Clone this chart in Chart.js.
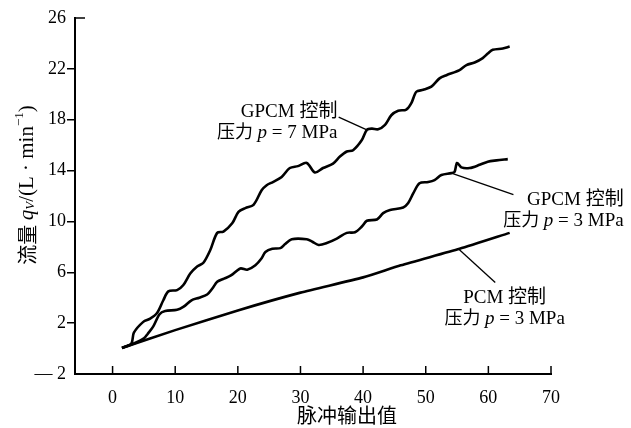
<!DOCTYPE html>
<html>
<head>
<meta charset="utf-8">
<script src="https://cdn.jsdelivr.net/npm/chart.js@4.4.1/dist/chart.umd.min.js"></script>
<style>
  html, body { margin: 0; padding: 0; background: #fff; }
</style>
</head>
<body>
<canvas id="chart" width="631" height="428"></canvas>
<script>
// axis ticks
const xTicks = [0, 10, 20, 30, 40, 50, 60, 70];
const yTicks = [-2, 2, 6, 10, 14, 18, 22, 26];

// GPCM control, p = 7 MPa
const gpcm7X = [1.5, 3.0, 3.4, 4.9, 6.0, 7.1, 8.1, 8.9, 10.3, 11.3, 12.4, 13.5, 14.5, 15.6, 16.7, 17.7,
  19.1, 20.1, 21.2, 22.5, 23.8, 24.6, 25.6, 27.0, 28.3, 29.6, 31.0, 32.3, 33.6, 35.2, 36.3, 37.4,
  38.4, 39.8, 40.6, 41.4, 42.4, 43.5, 44.5, 45.6, 46.9, 47.7, 48.5, 49.6, 50.9, 52.2, 53.3, 55.4,
  56.5, 57.8, 59.1, 59.9, 60.7, 62.3, 63.4];
const gpcm7Y = [0.05, 0.4, 1.25, 2.1, 2.35, 2.8, 3.8, 4.5, 4.6, 5.0, 5.9, 6.45, 6.75, 7.75, 9.1, 9.2,
  9.85, 10.75, 11.05, 11.3, 12.45, 12.85, 13.1, 13.5, 14.2, 14.35, 14.6, 13.85, 14.2, 14.55, 15.1, 15.5,
  15.6, 16.4, 17.2, 17.3, 17.25, 17.6, 18.35, 18.7, 18.8, 19.3, 20.2, 20.35, 20.6, 21.25, 21.5, 21.9,
  22.3, 22.5, 22.85, 23.2, 23.5, 23.6, 23.75];

// GPCM control, p = 3 MPa
const gpcm3X = [1.5, 3.4, 5.0, 5.6, 6.5, 7.5, 8.4, 10.3, 11.35, 12.6, 13.85, 15.1, 15.9, 16.7, 17.8,
  18.9, 20.4, 21.5, 22.8, 23.8, 24.4, 25.5, 26.8, 27.5, 28.6, 31.0, 31.9, 32.9, 34.2, 35.8, 37.4,
  38.7, 39.8, 40.6, 42.2, 43.2, 44.3, 46.4, 47.2, 48.0, 49.0, 50.4, 51.4, 52.5, 54.1, 54.6, 55.0,
  55.7, 57.0, 58.6, 59.9, 61.3, 63.1];
const gpcm3Y = [0.05, 0.4, 0.8, 1.15, 1.75, 2.7, 2.95, 3.05, 3.3, 3.8, 4.0, 4.25, 4.7, 5.25, 5.5,
  5.75, 6.3, 6.2, 6.55, 7.1, 7.6, 7.85, 7.9, 8.2, 8.6, 8.6, 8.4, 8.15, 8.3, 8.65, 9.1,
  9.15, 9.6, 10.05, 10.15, 10.65, 10.9, 11.1, 11.45, 12.2, 13.0, 13.1, 13.25, 13.65, 13.8, 13.9, 14.6,
  14.25, 14.2, 14.45, 14.7, 14.8, 14.9];

// PCM control, p = 3 MPa
const pcmX = [1.5, 10, 20, 30, 40, 46, 55.4, 63.4];
const pcmY = [0.05, 1.45, 3.0, 4.4, 5.6, 6.55, 7.85, 9.1];

const SERIF = '"Liberation Serif", "Noto Sans CJK SC", serif';
const CJK = '"Noto Sans CJK SC", sans-serif';

function toPoints(xs, ys) {
  return xs.map((x, i) => ({ x: x, y: ys[i] }));
}

// draw a line of text made of several runs (font changes, sub/superscripts)
function drawRuns(ctx, runs, x, y, align) {
  let w = 0;
  runs.forEach(r => { ctx.font = r.font; w += ctx.measureText(r.t).width; });
  let cx = x;
  if (align === 'right') cx = x - w;
  if (align === 'center') cx = x - w / 2;
  runs.forEach(r => {
    ctx.font = r.font;
    ctx.fillText(r.t, cx, y + (r.dy || 0));
    cx += ctx.measureText(r.t).width;
  });
}

function pressureRuns(val) {
  return [
    { t: '压力 ', font: '18px ' + SERIF },
    { t: 'p', font: 'italic 19px ' + SERIF },
    { t: ' = ' + val + ' MPa', font: '19px ' + SERIF },
  ];
}

const labels = [
  { x: 35.9, y: 18.2, align: 'right', head: 'GPCM 控制', p: 7, from: [36.1, 18.2], to: [40.6, 17.2] },
  { x: 81.6, y: 11.3, align: 'right', head: 'GPCM 控制', p: 3, from: [64.0, 12.1], to: [54.1, 13.8] },
  { x: 62.6, y: 3.6, align: 'center', head: 'PCM 控制', p: 3, from: [61.1, 5.2], to: [55.2, 7.85] },
];

const decor = {
  id: 'decor',
  afterDraw(chart) {
    const ctx = chart.ctx;
    const x = chart.scales.x;
    const y = chart.scales.y;
    ctx.save();
    ctx.strokeStyle = '#000';
    ctx.fillStyle = '#000';

    // x ticks point up into the plot
    ctx.lineWidth = 1.5;
    xTicks.forEach(v => {
      const px = x.getPixelForValue(v);
      ctx.beginPath();
      ctx.moveTo(px, y.bottom);
      ctx.lineTo(px, y.bottom - 8);
      ctx.stroke();
    });
    // top tick of y axis points right
    const ty = y.getPixelForValue(26);
    ctx.beginPath();
    ctx.moveTo(x.left, ty);
    ctx.lineTo(x.left + 10, ty);
    ctx.stroke();

    // annotations
    ctx.textBaseline = 'alphabetic';
    labels.forEach(l => {
      const lx = x.getPixelForValue(l.x);
      const ly = y.getPixelForValue(l.y);
      drawRuns(ctx, [{ t: l.head, font: '19px ' + SERIF }], lx, ly, l.align);
      drawRuns(ctx, pressureRuns(l.p), lx, ly + 21, l.align);
      ctx.lineWidth = 1.3;
      ctx.beginPath();
      ctx.moveTo(x.getPixelForValue(l.from[0]), y.getPixelForValue(l.from[1]));
      ctx.lineTo(x.getPixelForValue(l.to[0]), y.getPixelForValue(l.to[1]));
      ctx.stroke();
    });

    // x title
    ctx.textBaseline = 'middle';
    drawRuns(ctx, [{ t: '脉冲输出值', font: '20px ' + CJK }], 347, 415, 'center');

    // y title, rotated
    ctx.translate(27, 185);
    ctx.rotate(-Math.PI / 2);
    drawRuns(ctx, [
      { t: '流量 ', font: '20px ' + CJK },
      { t: 'q', font: 'italic 21px ' + SERIF },
      { t: 'V', font: 'italic 13px ' + SERIF, dy: 4 },
      { t: '/(L · min', font: '21px ' + SERIF },
      { t: '−1', font: '13px ' + SERIF, dy: -7 },
      { t: ')', font: '21px ' + SERIF },
    ], 0, 0, 'center');
    ctx.restore();
  }
};

const lineStyle = {
  borderColor: '#000',
  borderWidth: 2.6,
  pointRadius: 0,
  tension: 0.3,
  fill: false,
};

new Chart(document.getElementById('chart'), {
  type: 'line',
  data: {
    datasets: [
      Object.assign({ label: 'GPCM 7 MPa', data: toPoints(gpcm7X, gpcm7Y) }, lineStyle),
      Object.assign({ label: 'GPCM 3 MPa', data: toPoints(gpcm3X, gpcm3Y) }, lineStyle),
      Object.assign({ label: 'PCM 3 MPa', data: toPoints(pcmX, pcmY) }, lineStyle, { tension: 0.2 }),
    ],
  },
  options: {
    responsive: false,
    animation: false,
    layout: { padding: { left: 0, right: 80, top: 18, bottom: 0 } },
    plugins: { legend: { display: false }, tooltip: { enabled: false } },
    scales: {
      x: {
        type: 'linear',
        min: -6,
        max: 70,
        afterBuildTicks: s => { s.ticks = xTicks.map(v => ({ value: v })); },
        afterFit: s => { s.height = 54; },
        grid: { display: false },
        border: { color: '#000', width: 2 },
        ticks: { color: '#000', padding: 5, font: { family: SERIF, size: 18 } },
      },
      y: {
        type: 'linear',
        min: -2,
        max: 26,
        afterBuildTicks: s => { s.ticks = yTicks.map(v => ({ value: v })); },
        afterFit: s => { s.width = 75; },
        grid: {
          drawOnChartArea: false,
          tickLength: 8,
          lineWidth: 1.5,
          color: c => (c.tick && (c.tick.value === -2 || c.tick.value === 26)) ? 'rgba(0,0,0,0)' : '#000',
        },
        border: { color: '#000', width: 2 },
        ticks: {
          color: '#000',
          padding: 1,
          font: { family: SERIF, size: 18 },
          callback: v => v < 0 ? '— ' + Math.abs(v) : String(v),
        },
      },
    },
  },
  plugins: [decor],
});
</script>
</body>
</html>
